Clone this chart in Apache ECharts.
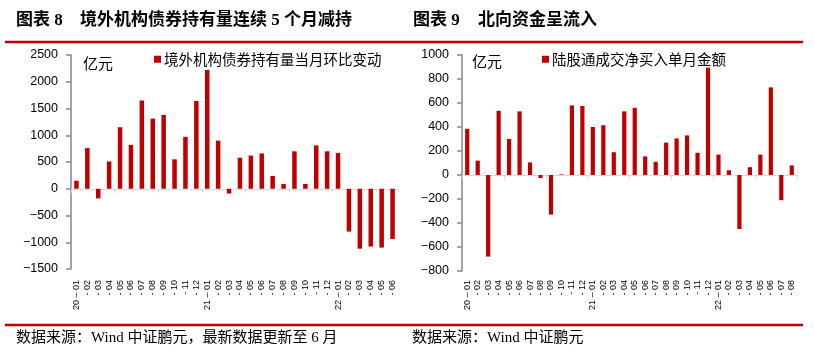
<!DOCTYPE html>
<html>
<head>
<meta charset="utf-8">
<script src="https://cdn.jsdelivr.net/npm/echarts@6/dist/echarts.min.js"></script>
<style>
html,body{margin:0;padding:0;background:#fff;}
#c{width:814px;height:356px;}
</style>
</head>
<body>
<div id="c"></div>
<script>
// ---- data ----
const leftCategories = ['20-01','20-02','20-03','20-04','20-05','20-06','20-07','20-08','20-09','20-10','20-11','20-12',
  '21-01','21-02','21-03','21-04','21-05','21-06','21-07','21-08','21-09','21-10','21-11','21-12',
  '22-01','22-02','22-03','22-04','22-05','22-06'];
const leftValues = [150,760,-180,510,1150,820,1650,1310,1380,550,970,1640,
  2220,900,-90,580,620,660,240,90,700,90,810,700,
  670,-800,-1120,-1080,-1100,-940];
const leftSeriesName = '境外机构债券持有量当月环比变动';
const leftYTicks = {min:-1500, max:2500, interval:500};

const rightCategories = ['20-01','20-02','20-03','20-04','20-05','20-06','20-07','20-08','20-09','20-10','20-11','20-12',
  '21-01','21-02','21-03','21-04','21-05','21-06','21-07','21-08','21-09','21-10','21-11','21-12',
  '22-01','22-02','22-03','22-04','22-05','22-06','22-07','22-08'];
const rightValues = [385,120,-680,535,300,530,105,-25,-330,5,580,575,
  400,415,190,530,560,155,110,270,305,330,185,895,
  170,40,-450,65,170,730,-210,80];
const rightSeriesName = '陆股通成交净买入单月金额';
const rightYTicks = {min:-800, max:1000, interval:200};

const leftTitleNo = '图表 8';
const leftTitle = '境外机构债券持有量连续 5 个月减持';
const rightTitleNo = '图表 9';
const rightTitle = '北向资金呈流入';
const leftSource = '数据来源：Wind 中证鹏元，最新数据更新至 6 月';
const rightSource = '数据来源：Wind 中证鹏元';
const unitText = '亿元';

// ---- chart ----
const RED = '#C00000';
const chart = echarts.init(document.getElementById('c'), null, {renderer:'canvas'});
const labelFmt = v => { const p = v.split('-'); return p[1] === '01' ? (p[0] + ' – ' + p[1]) : ('- ' + p[1]); };
const yFmt = v => (v < 0 ? '−' + Math.abs(v) : String(v));
const cjk = '"Liberation Serif","Noto Sans CJK SC"';
const sans = '"Liberation Sans",Arial,sans-serif';

function xZero(grid, cats){
  return {type:'category', gridIndex:grid, data:cats, position:'bottom',
    axisLine:{onZero:true, lineStyle:{color:'#d9d9d9', width:1}},
    axisTick:{show:true, length:4, lineStyle:{color:'#d9d9d9'}},
    axisLabel:{show:false}, splitLine:{show:false}};
}
function xLabels(grid, cats, margin){
  return {type:'category', gridIndex:grid, data:cats, position:'bottom',
    axisLine:{show:false, onZero:false}, axisTick:{show:false},
    axisLabel:{show:true, rotate:90, interval:0, fontSize:9, margin:margin, color:'#000',
      fontFamily:sans, formatter:labelFmt},
    splitLine:{show:false}};
}
function yAx(grid, t){
  return {type:'value', gridIndex:grid, min:t.min, max:t.max, interval:t.interval,
    axisLine:{show:true, lineStyle:{color:'#868686', width:1.5}},
    axisTick:{show:true, length:5, lineStyle:{color:'#868686', width:1.5}},
    axisLabel:{fontSize:12.5, color:'#000', margin:13, fontFamily:sans, formatter:yFmt},
    splitLine:{show:false}};
}

const option = {
  animation:false,
  backgroundColor:'#fff',
  grid:[
    {left:71, top:55, width:327, height:214},
    {left:462, top:55, width:335, height:216}
  ],
  xAxis:[ xZero(0,leftCategories), xLabels(0,leftCategories,11),
          xZero(1,rightCategories), xLabels(1,rightCategories,9) ],
  yAxis:[ yAx(0,leftYTicks), yAx(1,rightYTicks) ],
  legend:[
    {data:[leftSeriesName], left:149, top:47, icon:'rect', itemWidth:7, itemHeight:7, itemGap:4,
     textStyle:{fontSize:14.5, color:'#000', fontFamily:'"Noto Sans CJK SC"', padding:[0,0,0,-2]}},
    {data:[rightSeriesName], left:537, top:47, icon:'rect', itemWidth:7, itemHeight:7, itemGap:4,
     textStyle:{fontSize:14.5, color:'#000', fontFamily:'"Noto Sans CJK SC"', padding:[0,0,0,-2]}}
  ],
  series:[
    {name:leftSeriesName, type:'bar', xAxisIndex:0, yAxisIndex:0, data:leftValues,
     barWidth:4.5, itemStyle:{color:RED}},
    {name:rightSeriesName, type:'bar', xAxisIndex:2, yAxisIndex:1, data:rightValues,
     barWidth:4.2, itemStyle:{color:RED}}
  ],
  graphic:[
    {type:'text', left:16, top:12, style:{text:leftTitleNo, font:'bold 17px '+cjk, fill:'#000'}},
    {type:'text', left:80, top:12, style:{text:leftTitle, font:'bold 17px '+cjk, fill:'#000'}},
    {type:'text', left:413, top:12, style:{text:rightTitleNo, font:'bold 17px '+cjk, fill:'#000'}},
    {type:'text', left:478, top:12, style:{text:rightTitle, font:'bold 17px '+cjk, fill:'#000'}},
    {type:'line', shape:{x1:5, y1:42, x2:803, y2:42}, style:{stroke:RED, lineWidth:2.5}},
    {type:'line', shape:{x1:5, y1:325, x2:803, y2:325}, style:{stroke:RED, lineWidth:2.5}},
    {type:'text', left:83, top:56, style:{text:unitText, font:'15px "Noto Sans CJK SC"', fill:'#000'}},
    {type:'text', left:472, top:54, style:{text:unitText, font:'15px "Noto Sans CJK SC"', fill:'#000'}},
    {type:'text', left:16, top:331, style:{text:leftSource, font:'15px '+cjk, fill:'#000'}},
    {type:'text', left:412, top:331, style:{text:rightSource, font:'15px '+cjk, fill:'#000'}}
  ]
};
chart.setOption(option);
</script>
</body>
</html>
